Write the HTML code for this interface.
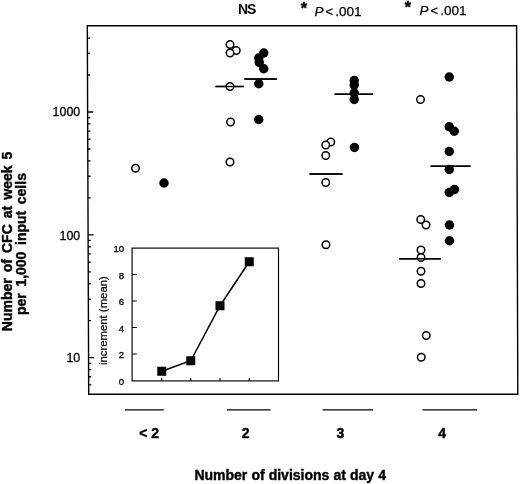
<!DOCTYPE html>
<html><head><meta charset="utf-8"><title>Figure</title>
<style>html,body{margin:0;padding:0;background:#fff}svg{display:block}text{font-family:"Liberation Sans",Arial,Helvetica,sans-serif;fill:#000}.b{font-weight:bold;stroke:#000;stroke-width:0.4px}</style></head><body>
<svg width="520" height="484" viewBox="0 0 520 484">
<rect width="520" height="484" fill="#fff"/>
<polygon points="87.3,25.8 516.6,25.8 517.8,394.3 88.7,394.3" fill="none" stroke="#000" stroke-width="1.4"/>
<path d="M88.57,384.95h2.7 M88.54,376.73h2.7 M88.51,369.61h2.7 M88.49,363.32h2.7 M88.47,357.70h5.6 M88.34,320.72h2.7 M88.26,299.09h2.7 M88.21,283.74h2.7 M88.17,271.83h2.7 M88.13,262.10h2.7 M88.10,253.88h2.7 M88.08,246.76h2.7 M88.06,240.47h2.7 M88.04,234.85h5.6 M87.91,197.87h2.7 M87.83,176.24h2.7 M87.78,160.89h2.7 M87.73,148.98h2.7 M87.70,139.25h2.7 M87.67,131.03h2.7 M87.65,123.91h2.7 M87.62,117.62h2.7 M87.60,112.00h5.6 M87.47,75.02h2.7 M87.40,53.39h2.7 M87.34,38.04h2.7" stroke="#000" stroke-width="1.3" fill="none"/>
<text x="80.2" y="116.25" font-size="12.4" text-anchor="end" stroke="#000" stroke-width="0.3">1000</text>
<text x="80.2" y="239.5" font-size="12.4" text-anchor="end" stroke="#000" stroke-width="0.3">100</text>
<text x="80.2" y="362" font-size="12.4" text-anchor="end" stroke="#000" stroke-width="0.3">10</text>
<line x1="215.5" y1="86.5" x2="243.75" y2="86.5" stroke="#000" stroke-width="1.4"/>
<line x1="244.5" y1="79" x2="276.75" y2="79" stroke="#000" stroke-width="1.4"/>
<line x1="309.5" y1="174" x2="342.5" y2="174" stroke="#000" stroke-width="1.4"/>
<line x1="334.5" y1="94.25" x2="373" y2="94.25" stroke="#000" stroke-width="1.4"/>
<line x1="399.25" y1="258.75" x2="440.75" y2="258.75" stroke="#000" stroke-width="1.4"/>
<line x1="430.5" y1="166.25" x2="470.5" y2="166.25" stroke="#000" stroke-width="1.4"/>
<circle cx="135.5" cy="168.25" r="3.75" fill="#fff" stroke="#000" stroke-width="1.5"/>
<circle cx="230" cy="44.5" r="3.75" fill="#fff" stroke="#000" stroke-width="1.5"/>
<circle cx="236.25" cy="50.5" r="3.75" fill="#fff" stroke="#000" stroke-width="1.5"/>
<circle cx="230" cy="53" r="3.75" fill="#fff" stroke="#000" stroke-width="1.5"/>
<circle cx="230" cy="86.5" r="3.75" fill="#fff" stroke="#000" stroke-width="1.5"/>
<circle cx="230.5" cy="122" r="3.75" fill="#fff" stroke="#000" stroke-width="1.5"/>
<circle cx="230" cy="162" r="3.75" fill="#fff" stroke="#000" stroke-width="1.5"/>
<circle cx="330.75" cy="142" r="3.75" fill="#fff" stroke="#000" stroke-width="1.5"/>
<circle cx="325.75" cy="145" r="3.75" fill="#fff" stroke="#000" stroke-width="1.5"/>
<circle cx="325.75" cy="155.5" r="3.75" fill="#fff" stroke="#000" stroke-width="1.5"/>
<circle cx="325.75" cy="182.5" r="3.75" fill="#fff" stroke="#000" stroke-width="1.5"/>
<circle cx="326" cy="244.75" r="3.75" fill="#fff" stroke="#000" stroke-width="1.5"/>
<circle cx="420.5" cy="99.5" r="3.75" fill="#fff" stroke="#000" stroke-width="1.5"/>
<circle cx="420.75" cy="219.5" r="3.75" fill="#fff" stroke="#000" stroke-width="1.5"/>
<circle cx="426" cy="225" r="3.75" fill="#fff" stroke="#000" stroke-width="1.5"/>
<circle cx="421" cy="250" r="3.75" fill="#fff" stroke="#000" stroke-width="1.5"/>
<circle cx="421" cy="257.5" r="3.75" fill="#fff" stroke="#000" stroke-width="1.5"/>
<circle cx="421" cy="271.25" r="3.75" fill="#fff" stroke="#000" stroke-width="1.5"/>
<circle cx="421" cy="283.5" r="3.75" fill="#fff" stroke="#000" stroke-width="1.5"/>
<circle cx="426.25" cy="335.5" r="3.75" fill="#fff" stroke="#000" stroke-width="1.5"/>
<circle cx="421.25" cy="357.25" r="3.75" fill="#fff" stroke="#000" stroke-width="1.5"/>
<circle cx="164" cy="183" r="4.75" fill="#000"/>
<circle cx="263.75" cy="53" r="4.75" fill="#000"/>
<circle cx="258.75" cy="58" r="4.75" fill="#000"/>
<circle cx="259.25" cy="62.5" r="4.75" fill="#000"/>
<circle cx="263.75" cy="68.75" r="4.75" fill="#000"/>
<circle cx="258.75" cy="83.75" r="4.75" fill="#000"/>
<circle cx="258.75" cy="119.5" r="4.75" fill="#000"/>
<circle cx="354.25" cy="80.5" r="4.75" fill="#000"/>
<circle cx="354.25" cy="85" r="4.75" fill="#000"/>
<circle cx="354.25" cy="93" r="4.75" fill="#000"/>
<circle cx="354.25" cy="99.5" r="4.75" fill="#000"/>
<circle cx="354.5" cy="147.5" r="4.75" fill="#000"/>
<circle cx="449.25" cy="77" r="4.75" fill="#000"/>
<circle cx="449.25" cy="126.75" r="4.75" fill="#000"/>
<circle cx="454.25" cy="131.25" r="4.75" fill="#000"/>
<circle cx="449.25" cy="151.5" r="4.75" fill="#000"/>
<circle cx="449.25" cy="169.5" r="4.75" fill="#000"/>
<circle cx="454.5" cy="189.5" r="4.75" fill="#000"/>
<circle cx="449.25" cy="192.5" r="4.75" fill="#000"/>
<circle cx="449.5" cy="225" r="4.75" fill="#000"/>
<circle cx="449.5" cy="240.75" r="4.75" fill="#000"/>
<line x1="215.5" y1="86.5" x2="243.75" y2="86.5" stroke="#000" stroke-width="1.4"/>
<line x1="244.5" y1="79" x2="276.75" y2="79" stroke="#000" stroke-width="1.4"/>
<line x1="309.5" y1="174" x2="342.5" y2="174" stroke="#000" stroke-width="1.4"/>
<line x1="334.5" y1="94.25" x2="373" y2="94.25" stroke="#000" stroke-width="1.4"/>
<line x1="399.25" y1="258.75" x2="440.75" y2="258.75" stroke="#000" stroke-width="1.4"/>
<line x1="430.5" y1="166.25" x2="470.5" y2="166.25" stroke="#000" stroke-width="1.4"/>
<rect x="132.1" y="248.1" width="146.4" height="132.8" fill="#fff" stroke="#000" stroke-width="1.15"/>
<path d="M132,274.5h4.8 M132,301h4.8 M132,327.5h4.8 M132,354h4.8 M161.75,380.9v-2.8 M190.75,380.9v-2.8 M220,380.9v-2.8 M249.25,380.9v-2.8" stroke="#000" stroke-width="1.1" fill="none"/>
<text x="124.2" y="252" font-size="9.6" text-anchor="end" stroke="#000" stroke-width="0.3">10</text>
<text x="124.2" y="278.6" font-size="9.6" text-anchor="end" stroke="#000" stroke-width="0.3">8</text>
<text x="124.2" y="305" font-size="9.6" text-anchor="end" stroke="#000" stroke-width="0.3">6</text>
<text x="124.2" y="331.6" font-size="9.6" text-anchor="end" stroke="#000" stroke-width="0.3">4</text>
<text x="124.2" y="358.1" font-size="9.6" text-anchor="end" stroke="#000" stroke-width="0.3">2</text>
<text x="124.2" y="384.9" font-size="9.6" text-anchor="end" stroke="#000" stroke-width="0.3">0</text>
<polyline points="161.75,371.25 190.75,360.75 220,305.75 249.25,261.75" fill="none" stroke="#000" stroke-width="1.5"/>
<rect x="157.25" y="366.75" width="9" height="9" fill="#000"/>
<rect x="186.25" y="356.25" width="9" height="9" fill="#000"/>
<rect x="215.5" y="301.25" width="9" height="9" fill="#000"/>
<rect x="244.75" y="257.25" width="9" height="9" fill="#000"/>
<text transform="translate(106.5,365) rotate(-90)" font-size="10.5" textLength="88.75" lengthAdjust="spacingAndGlyphs" stroke="#000" stroke-width="0.2">increment (mean)</text>
<text x="237.9" y="14.3" font-size="14" font-weight="bold" style="letter-spacing:-0.9px">NS</text>
<text x="300.8" y="13.7" font-size="16" class="b">*</text>
<text y="15.9" font-size="13.5" stroke="#000" stroke-width="0.25"><tspan x="314.4" font-style="italic">P</tspan><tspan x="325.6" font-size="13">&lt;</tspan><tspan x="335.2">.001</tspan></text>
<text x="404.8" y="13.0" font-size="16" class="b">*</text>
<text y="15.200000000000001" font-size="13.5" stroke="#000" stroke-width="0.25"><tspan x="419.4" font-style="italic">P</tspan><tspan x="430.6" font-size="13">&lt;</tspan><tspan x="440.2">.001</tspan></text>
<line x1="125" y1="409.8" x2="163.75" y2="409.8" stroke="#000" stroke-width="1.3"/>
<line x1="227" y1="409.8" x2="270.5" y2="409.8" stroke="#000" stroke-width="1.3"/>
<line x1="322.5" y1="409.8" x2="373" y2="409.8" stroke="#000" stroke-width="1.3"/>
<line x1="422.5" y1="409.8" x2="477" y2="409.8" stroke="#000" stroke-width="1.3"/>
<text x="139.3" y="437.6" font-size="14" class="b">&lt; 2</text>
<text x="241.75" y="437.6" font-size="14" class="b">2</text>
<text x="336.4" y="437.6" font-size="14" class="b">3</text>
<text x="438.2" y="437.6" font-size="14" class="b">4</text>
<text x="194.4" y="480" font-size="14" class="b" style="word-spacing:0.2px">Number of divisions at day 4</text>
<text transform="translate(12.2,331.2) rotate(-90)" font-size="14" class="b" style="word-spacing:2.14px">Number of CFC at week 5</text>
<text transform="translate(25.5,315.0) rotate(-90)" font-size="14" class="b" style="word-spacing:2.7px">per 1,000 input cells</text>
</svg></body></html>
